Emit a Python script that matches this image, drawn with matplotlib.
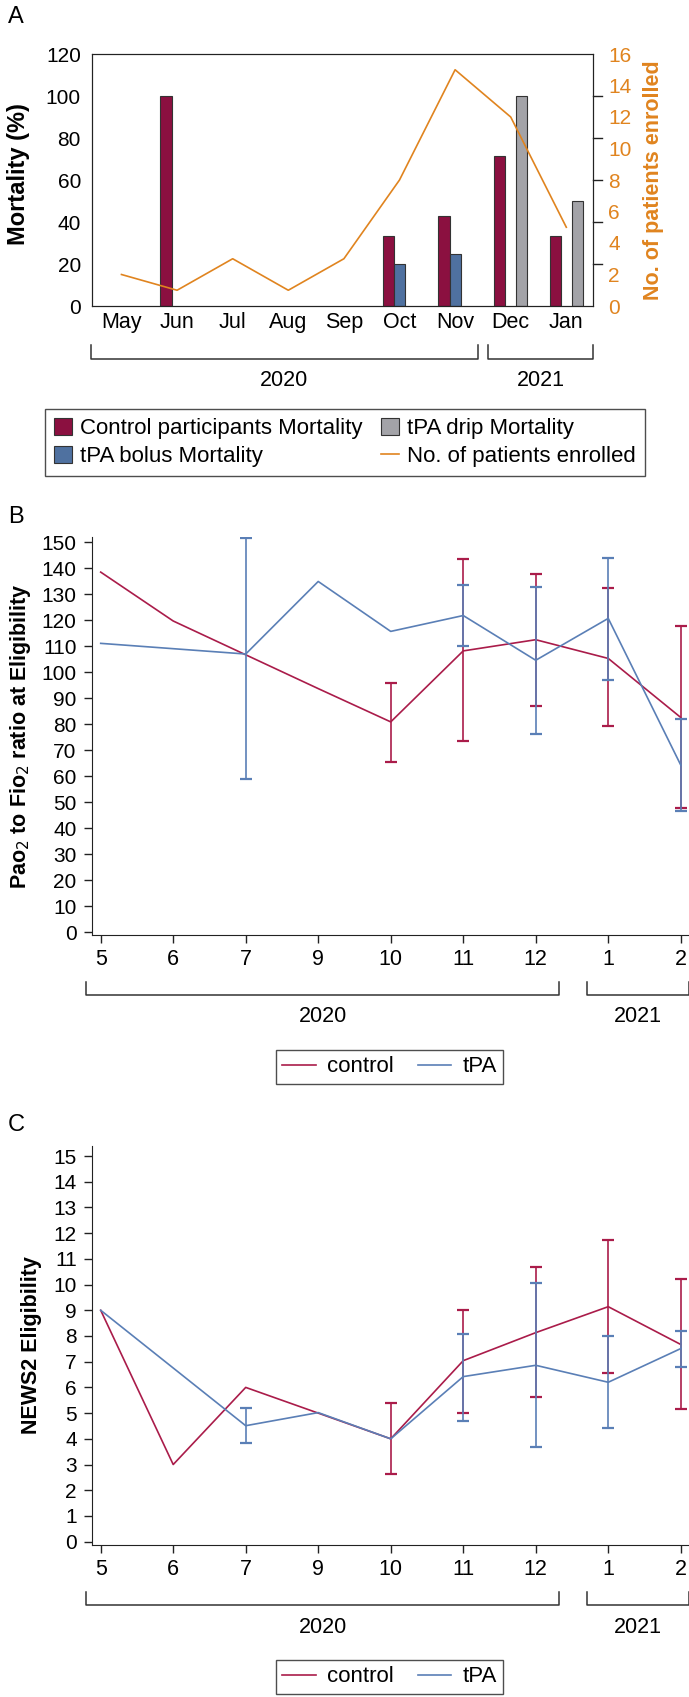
import numpy as np
import matplotlib.pyplot as plt
from matplotlib.lines import Line2D
from matplotlib.patches import Patch

plt.rcParams['font.family'] = ['Liberation Sans', 'DejaVu Sans']

nan = np.nan

# panel A data
months = ['May', 'Jun', 'Jul', 'Aug', 'Sep', 'Oct', 'Nov', 'Dec', 'Jan']
control_mort = [nan, 100, nan, nan, nan, 33.3, 42.9, 71.4, 33.3]
bolus_mort = [nan, nan, nan, nan, nan, 20, 25, nan, nan]
drip_mort = [nan, nan, nan, nan, nan, nan, nan, 100, 50]
enrolled = [2, 1, 3, 1, 3, 8, 15, 12, 5]

# panel B / C data
month_nums = ['5', '6', '7', '9', '10', '11', '12', '1', '2']
pf_control = [138.5, 119.7, 106.7, 93.7, 80.9, 108.2, 112.5, 105.3, 82.6]
pf_control_lo = [nan, nan, nan, nan, 65.5, 73.5, 86.9, 79.4, 47.6]
pf_control_hi = [nan, nan, nan, nan, 95.9, 143.5, 137.8, 132.3, 117.6]
pf_tpa = [111.1, nan, 107.0, 134.9, 115.7, 121.8, 104.6, 120.7, 64.3]
pf_tpa_lo = [nan, nan, 59.1, nan, nan, 110.2, 76.2, 97.1, 46.7]
pf_tpa_hi = [nan, nan, 151.7, nan, nan, 133.7, 132.7, 144.1, 82.0]

news_control = [9, 3, 6, 5, 4, 7.04, 8.13, 9.14, 7.67]
news_control_lo = [nan, nan, nan, nan, 2.62, 5.02, 5.62, 6.55, 5.16]
news_control_hi = [nan, nan, nan, nan, 5.41, 9.0, 10.67, 11.74, 10.21]
news_tpa = [9, nan, 4.51, 5.02, 4.0, 6.42, 6.86, 6.2, 7.51]
news_tpa_lo = [nan, nan, 3.83, nan, nan, 4.71, 3.70, 4.41, 6.78]
news_tpa_hi = [nan, nan, 5.21, nan, nan, 8.08, 10.05, 8.0, 8.2]

c_ctrl_bar = '#8b1040'
c_bolus = '#4f71a0'
c_drip = '#a3a3a8'
c_orange = '#e0841f'
c_ctrl = '#aa1c4a'
c_tpa = '#5a7fb6'
c_ax = '#222222'
FS = 15.5

fig = plt.figure(figsize=(6.89, 16.97), dpi=100)
W, H = 689, 1697


def place(l, t, r, b):
    return fig.add_axes([l / W, 1 - b / H, (r - l) / W, (b - t) / H])


def bracket(ax, x0, x1, ytop, ybot, ytext, label):
    tr = ax.get_xaxis_transform()
    ax.plot([x0, x0, x1, x1], [ytop, ybot, ybot, ytop], color='#333333', lw=1.1,
            transform=tr, clip_on=False, solid_joinstyle='round')
    ax.text((x0 + x1) / 2, ytext, label, transform=tr, ha='center', va='center', fontsize=FS)


# ---- panel A ----
ax = place(92, 54, 593, 306)
x = np.arange(len(months))
w = 0.2
ax.bar(x - w, control_mort, w, color=c_ctrl_bar, edgecolor='#333333', lw=0.8)
ax.bar(x, bolus_mort, w, color=c_bolus, edgecolor='#333333', lw=0.8)
ax.bar(x + w, drip_mort, w, color=c_drip, edgecolor='#333333', lw=0.8)
ax.set_xlim(-0.53, 8.48)
ax.set_ylim(0, 120)
ax.set_yticks(range(0, 121, 20))
ax.set_xticks(x, months)
ax.tick_params(axis='x', length=0, pad=4, labelsize=FS)
ax.tick_params(axis='y', length=0, pad=8, labelsize=15)
for s in ax.spines.values():
    s.set_color(c_ax)
ax.set_ylabel('Mortality (%)', fontsize=17, fontweight='bold')
ax.yaxis.set_label_coords(-0.123, 0.525)

ax2 = ax.twinx()
ax2.plot(x, enrolled, color=c_orange, lw=1.2)
ax2.set_ylim(0, 16)
ax2.set_yticks(range(0, 17, 2))
ax2.tick_params(axis='y', length=0, pad=11, labelsize=15, labelcolor=c_orange)
for s in ax2.spines.values():
    s.set_color(c_ax)
ax2.set_ylabel('No. of patients enrolled', fontsize=FS, fontweight='bold', color=c_orange)
ax2.yaxis.set_label_coords(1.10, 0.5)
# mirrored mortality ticks on the right spine
for v in range(20, 101, 20):
    ax2.plot([1.0, 1.018], [v / 120, v / 120], transform=ax2.transAxes, color=c_ax, lw=1, clip_on=False)

bracket(ax, -0.55, 6.41, -0.155, -0.21, -0.294, '2020')
bracket(ax, 6.59, 8.48, -0.155, -0.21, -0.294, '2021')

handles = [Patch(fc=c_ctrl_bar, ec='#333333', lw=0.8),
           Patch(fc=c_bolus, ec='#333333', lw=0.8),
           Patch(fc=c_drip, ec='#333333', lw=0.8),
           Line2D([], [], color=c_orange, lw=1.2)]
labels = ['Control participants Mortality', 'tPA bolus Mortality',
          'tPA drip Mortality', 'No. of patients enrolled']
leg = fig.legend(handles, labels, ncol=2, loc='center', bbox_to_anchor=(345 / W, 1 - 442.5 / H),
                 frameon=True, fancybox=False, edgecolor=c_ax, fontsize=16, handlelength=0.8,
                 handleheight=0.8, handletextpad=0.4, columnspacing=0.8, labelspacing=0.3,
                 borderpad=0.4, borderaxespad=0)
leg.get_frame().set_linewidth(1.0)


# ---- panels B and C ----
def line_panel(ax, c_vals, c_lo, c_hi, t_vals, t_lo, t_hi):
    xs = np.arange(len(month_nums))
    for vals, lo, hi, col in [(c_vals, c_lo, c_hi, c_ctrl), (t_vals, t_lo, t_hi, c_tpa)]:
        v = np.array(vals, float)
        lo = np.array(lo, float)
        hi = np.array(hi, float)
        m = ~np.isnan(v)
        ax.plot(xs[m], v[m], color=col, lw=1.2)
        e = ~np.isnan(lo)
        ax.errorbar(xs[e], v[e], yerr=[v[e] - lo[e], hi[e] - v[e]], fmt='none',
                    ecolor=col, elinewidth=1.2, capsize=4, capthick=1.6)
    ax.set_xlim(-0.12, 8.1)
    ax.set_xticks(xs, month_nums)
    for s in ['top', 'right']:
        ax.spines[s].set_visible(False)
    for s in ['left', 'bottom']:
        ax.spines[s].set_color(c_ax)
    ax.tick_params(axis='both', length=6, width=1, color=c_ax)
    ax.tick_params(axis='y', pad=5, labelsize=15)
    ax.tick_params(axis='x', pad=4, labelsize=FS)
    bracket(ax, -0.2, 6.32, -0.118, -0.151, -0.206, '2020')
    bracket(ax, 6.71, 8.12, -0.118, -0.151, -0.206, '2021')


axB = place(92, 537, 688, 935)
line_panel(axB, pf_control, pf_control_lo, pf_control_hi, pf_tpa, pf_tpa_lo, pf_tpa_hi)
axB.set_ylim(-1.05, 152)
axB.set_yticks(range(0, 151, 10))
axB.set_ylabel('Pao$_2$ to Fio$_2$ ratio at Eligibility', fontsize=FS, fontweight='bold')
axB.yaxis.set_label_coords(-0.099, 0.5)

axC = place(92, 1146, 688, 1545)
line_panel(axC, news_control, news_control_lo, news_control_hi, news_tpa, news_tpa_lo, news_tpa_hi)
axC.set_ylim(-0.13, 15.39)
axC.set_yticks(range(0, 16))
axC.set_ylabel('NEWS2 Eligibility', fontsize=FS, fontweight='bold')
axC.yaxis.set_label_coords(-0.084, 0.5)

lh = [Line2D([], [], color=c_ctrl, lw=1.2), Line2D([], [], color=c_tpa, lw=1.2)]
for yc in [1067, 1677]:
    lg = fig.legend(lh, ['control', 'tPA'], ncol=2, loc='center', bbox_to_anchor=(389.5 / W, 1 - yc / H),
                    frameon=True, fancybox=False, edgecolor=c_ax, fontsize=16, handlelength=1.5,
                    handletextpad=0.5, columnspacing=1.1, borderpad=0.3, borderaxespad=0)
    lg.get_frame().set_linewidth(1.0)

fig.text(8 / W, 1 - 17 / H, 'A', fontsize=17, ha='left', va='center')
fig.text(8 / W, 1 - 517 / H, 'B', fontsize=17, ha='left', va='center')
fig.text(8 / W, 1 - 1125 / H, 'C', fontsize=17, ha='left', va='center')

fig.savefig('out.png', dpi=100)
